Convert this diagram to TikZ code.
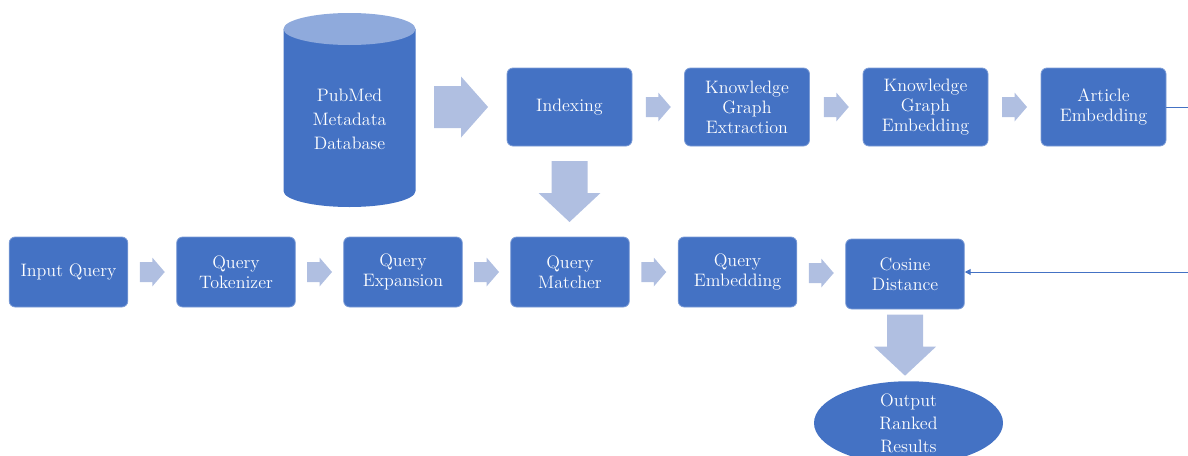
\documentclass[tikz,border=0pt]{standalone}
\usepackage{fontspec}
\usepackage{tikz}
\usetikzlibrary{arrows.meta,shapes.geometric,calc}

\definecolor{boxblue}{HTML}{4472C4}
\definecolor{arrowblue}{HTML}{B0BFE1}
\definecolor{topblue}{HTML}{8FAADC}

\tikzset{
  pics/smallarr/.style={code={\fill[arrowblue] (-12.5,-10) -- (0,-10) -- (0,-14.5) -- (12.5,0) -- (0,14.5) -- (0,10) -- (-12.5,10) -- cycle;}},
  pics/bigarr/.style={code={\fill[arrowblue] (-30.5,-18) -- (1.5,-18) -- (1.5,-31) -- (30.5,0) -- (1.5,31) -- (1.5,18) -- (-30.5,18) -- cycle;}},
  pics/dbarr/.style={code={\fill[arrowblue] (-27,-21) -- (0,-21) -- (0,-30.5) -- (27,0) -- (0,30.5) -- (0,21) -- (-27,21) -- cycle;}}
}

\begin{document}
\begin{tikzpicture}[x=0.75pt,y=0.75pt,
  box/.style={rectangle,rounded corners=4.5pt,fill=boxblue,draw=boxblue!70!white,line width=0.6pt,text=white,align=center,minimum width=89pt,minimum height=52.5pt,inner sep=1pt,font=\fontsize{13.5}{15}\selectfont},
  topbox/.style={box,minimum width=93.75pt,minimum height=58.5pt},
  link/.style={draw=boxblue,line width=0.75pt}]
\useasboundingbox (0,0) rectangle (1188,455);

% database cylinder
\fill[boxblue] (283.5,426) -- (283.5,264) arc[start angle=180,end angle=360,x radius=66,y radius=16] -- (415.5,426) -- cycle;
\fill[topblue] (349.5,426) ellipse [x radius=66,y radius=16];
\node[text=white,align=center,font=\fontsize{13.5}{18}\selectfont] (db) at (349.5,336) {PubMed\\Metadata\\Database};
\coordinate (dbe) at (415.5,348);

% top row
\node[topbox] (idx) at (569.5,348) {Indexing};
\node[topbox] (kgx) at (747,348) {Knowledge\\Graph\\Extraction};
\node[topbox] (kge) at (925.5,348) {Knowledge\\Graph\\Embedding};
\node[topbox] (ae) at (1103.5,348) {Article\\Embedding};

% bottom row
\node[box] (iq) at (68.5,183) {Input Query};
\node[box] (qt) at (236,183) {Query\\Tokenizer};
\node[box] (qe) at (403,183) {Query\\Expansion};
\node[box] (qm) at (570,183) {Query\\Matcher};
\node[box] (qb) at (737.5,183) {Query\\Embedding};
\node[box] (cd) at (905,181) {Cosine\\Distance};

\node[ellipse,fill=boxblue,text=white,align=center,minimum width=141.75pt,minimum height=60pt,inner sep=0pt,font=\fontsize{13.5}{17.25}\selectfont] (out) at (908.5,32) {Output\\Ranked\\Results};

% block arrows
\pic at ($(dbe)!0.5!(idx.west)$) {dbarr};
\pic at ($(idx.east)!0.5!(kgx.west)$) {smallarr};
\pic at ($(kgx.east)!0.5!(kge.west)$) {smallarr};
\pic at ($(kge.east)!0.5!(ae.west)$) {smallarr};
\pic[rotate=-90] at ($(idx.south)!0.5!(idx.south |- qm.north)$) {bigarr};
\pic at ($(iq.east)!0.5!(qt.west)$) {smallarr};
\pic at ($(qt.east)!0.5!(qe.west)$) {smallarr};
\pic at ($(qe.east)!0.5!(qm.west)$) {smallarr};
\pic at ($(qm.east)!0.5!(qb.west)$) {smallarr};
\pic at ($(qb.east)!0.5!(cd.west)$) {smallarr};
\pic[rotate=-90] at ($(cd.south)!0.5!(cd.south |- out.north)$) {bigarr};

% thin links to the right edge
\coordinate (edge1) at (1188,348);
\coordinate (edge2) at (1188,183);
\draw[link] (ae.east) -- (edge1);
\draw[link,-{Triangle[length=4.5pt,width=4.5pt]}] (edge2) -- (edge2 -| cd.east);
\end{tikzpicture}
\end{document}
